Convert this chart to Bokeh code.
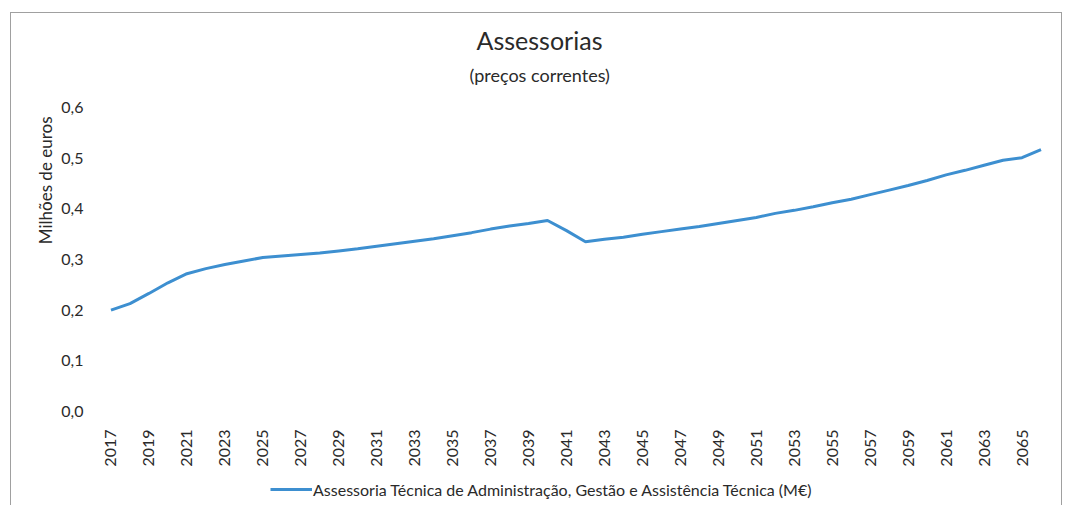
from bokeh.plotting import figure
from bokeh.models import (FixedTicker, CustomJSTickFormatter, Legend, LegendItem,
                          Title, ColumnDataSource, Range1d)
from bokeh.layouts import column
from bokeh.embed import file_html
from bokeh.resources import INLINE
import math

years = [2017, 2018, 2019, 2020, 2021, 2022, 2023, 2024, 2025, 2026,
         2027, 2028, 2029, 2030, 2031, 2032, 2033, 2034, 2035, 2036,
         2037, 2038, 2039, 2040, 2041, 2042, 2043, 2044, 2045, 2046,
         2047, 2048, 2049, 2050, 2051, 2052, 2053, 2054, 2055, 2056,
         2057, 2058, 2059, 2060, 2061, 2062, 2063, 2064, 2065, 2066]
assessoria = [0.200, 0.213, 0.233, 0.254, 0.272, 0.282, 0.290, 0.297, 0.304, 0.307,
              0.310, 0.313, 0.317, 0.321, 0.326, 0.331, 0.336, 0.341, 0.347, 0.353,
              0.360, 0.366, 0.371, 0.377, 0.357, 0.335, 0.340, 0.344, 0.350, 0.355,
              0.360, 0.365, 0.371, 0.377, 0.383, 0.391, 0.397, 0.404, 0.412, 0.419,
              0.428, 0.437, 0.446, 0.456, 0.467, 0.476, 0.486, 0.496, 0.501, 0.517]
x_ticks = [2017, 2019, 2021, 2023, 2025, 2027, 2029, 2031, 2033, 2035, 2037, 2039,
           2041, 2043, 2045, 2047, 2049, 2051, 2053, 2055, 2057, 2059, 2061, 2063, 2065]
y_ticks = [0.0, 0.1, 0.2, 0.3, 0.4, 0.5, 0.6]

title_text = "Assessorias"
subtitle_text = "(preços correntes)"
y_label = "Milhões de euros"
series_name = "Assessoria Técnica de Administração, Gestão e Assistência Técnica (M€)"

FONT = "Lato"
TXT = "#2a2a2a"
BLUE = "#3d8fd0"

src = ColumnDataSource(dict(x=years, y=assessoria))

# ---------------- main chart ----------------
p = figure(width=1050, height=456, output_backend="svg", toolbar_location=None,
           x_range=Range1d(2016.5, 2066.5), y_range=Range1d(0, 0.6),
           min_border_left=90, min_border_right=11, min_border_top=94,
           min_border_bottom=58, title=None)
p.outline_line_color = None
p.background_fill_color = "white"
p.border_fill_color = "white"
p.grid.visible = False

r = p.line("x", "y", source=src, line_color=BLUE, line_width=3)

p.xaxis.ticker = FixedTicker(ticks=x_ticks)
p.xaxis.major_label_orientation = math.pi / 2
p.xaxis.axis_line_color = None
p.xaxis.major_tick_line_color = None
p.xaxis.minor_tick_line_color = None
p.xaxis.major_label_text_font = FONT
p.xaxis.major_label_text_font_size = "16px"
p.xaxis.major_label_text_color = TXT
p.xaxis.major_label_standoff = 12

p.yaxis.ticker = FixedTicker(ticks=y_ticks)
p.yaxis.formatter = CustomJSTickFormatter(code="return tick.toFixed(1).replace('.', ',');")
p.yaxis.axis_line_color = None
p.yaxis.major_tick_line_color = None
p.yaxis.minor_tick_line_color = None
p.yaxis.major_label_text_font = FONT
p.yaxis.major_label_text_font_size = "16px"
p.yaxis.major_label_text_color = TXT
p.yaxis.major_label_standoff = 12

yl = Title(text=y_label, align="right", offset=9, standoff=5, text_font=FONT,
           text_font_size="17px", text_font_style="normal", text_color=TXT)
p.add_layout(yl, "left")

sub = Title(text=subtitle_text, align="left", offset=368, standoff=43, text_font=FONT,
            text_font_size="18px", text_font_style="normal", text_color=TXT)
p.add_layout(sub, "above")
main = Title(text=title_text, align="left", offset=375, standoff=-29, text_font=FONT,
             text_font_size="25px", text_font_style="normal", text_color=TXT)
p.add_layout(main, "above")

# ---------------- legend row ----------------
p2 = figure(width=1050, height=36, output_backend="svg", toolbar_location=None,
            x_range=Range1d(0, 1), y_range=Range1d(0, 1),
            x_axis_type=None, y_axis_type=None, min_border=0, title=None)
p2.outline_line_color = None
p2.grid.visible = False
p2.background_fill_color = "white"
p2.border_fill_color = "white"
r2 = p2.line("x", "y", source=src, line_color=BLUE, line_width=3)

legend = Legend(items=[LegendItem(label=series_name, renderers=[r2])],
                location=(169, 6), orientation="horizontal",
                label_text_font=FONT, label_text_font_size="16px",
                label_text_color=TXT, glyph_width=42, label_standoff=1,
                border_line_color=None, background_fill_alpha=0,
                padding=0, margin=0)
p2.add_layout(legend, "center")

layout = column(p, p2, spacing=0)
layout.margin = (12, 0, 0, 10)
layout.styles = {"border": "1px solid #a0a0a0", "border-bottom": "none"}

open("out.html", "w").write(file_html(layout, INLINE))
